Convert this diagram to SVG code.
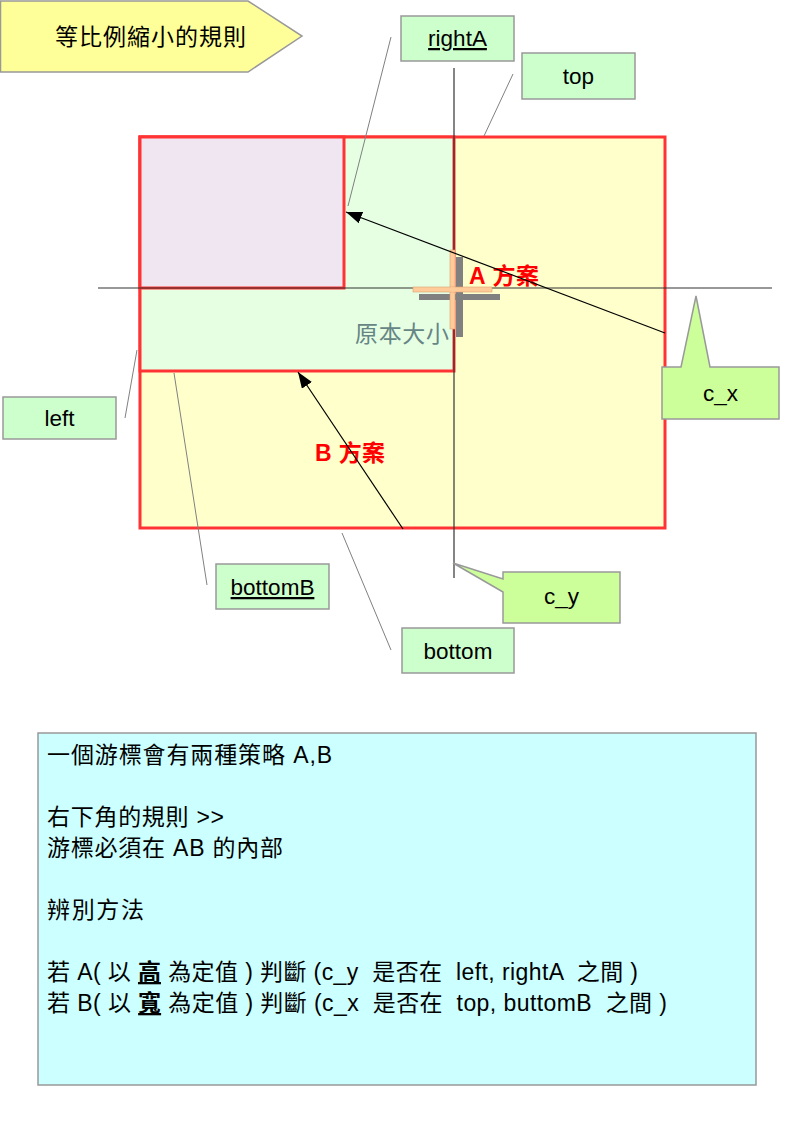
<svg xmlns="http://www.w3.org/2000/svg" width="794" height="1123" viewBox="0 0 794 1123">
<style>
text{font-family:"Liberation Sans","Noto Sans CJK TC","Noto Sans CJK SC",sans-serif;}
.lbl{fill:#ccffcc;stroke:#999999;stroke-width:1.5;}
.call{fill:#ccff99;stroke:#999999;stroke-width:1.5;}
.lt{font-size:22.5px;fill:#000;text-anchor:middle;}
.red{fill:#ff0000;font-size:23px;font-weight:bold;}
.body{font-size:23px;fill:#000;}
.pre{white-space:pre;}
.leader{stroke:#808080;stroke-width:1;fill:none;}
.arrow{stroke:#000;stroke-width:1.2;fill:none;marker-end:url(#ah);}
.frame{stroke:#ff3333;stroke-width:3;}
</style>
<defs>
<marker id="ah" markerUnits="userSpaceOnUse" markerWidth="16" markerHeight="12" refX="16" refY="6" orient="auto">
<path d="M0,0 L16,6 L0,12 Z" fill="#000"/>
</marker>
</defs>
<rect width="794" height="1123" fill="#ffffff"/>

<g id="title">
<polygon points="0.5,1 248,1 302,36 248,72 0.5,72" fill="#ffff99" stroke="#999999" stroke-width="1.5"/>
<text x="55" y="45" font-size="23" textLength="191" lengthAdjust="spacing">等比例縮小的規則</text>
</g>

<g id="rect-original">
<rect class="frame" x="140" y="137" width="525" height="391" fill="#ffffcc"/>
</g>
<g id="rect-B">
<rect class="frame" x="140" y="137" width="314" height="234" fill="#e6ffe3"/>
</g>
<g id="rect-A">
<rect class="frame" x="140" y="137" width="204" height="151" fill="#f0e6f2"/>
</g>

<g id="axes">
<line x1="454" y1="68" x2="454" y2="578" stroke="#333333" stroke-width="1.2"/>
<line x1="98" y1="288" x2="772" y2="288" stroke="#333333" stroke-width="1.2"/>
</g>

<g id="cursor">
<rect x="456" y="257" width="7" height="80" fill="#808080"/>
<rect x="419" y="294" width="81" height="6" fill="#808080"/>
<rect x="450" y="250" width="5" height="79" fill="#ffcc99" stroke="#d9a070" stroke-width="0.6"/>
<rect x="413" y="287" width="79" height="5" fill="#ffcc99" stroke="#d9a070" stroke-width="0.6"/>
<rect x="450.3" y="287.3" width="4.4" height="4.4" fill="#ffcc99"/>
</g>

<g id="label-original">
<text x="355" y="342" font-size="23" fill="#668585" textLength="94" lengthAdjust="spacing">原本大小</text>
</g>
<g id="label-planA">
<text class="red" x="469" y="284" textLength="70" lengthAdjust="spacing">A 方案</text>
</g>
<g id="label-planB">
<text class="red" x="315" y="461" textLength="70" lengthAdjust="spacing">B 方案</text>
</g>

<g id="node-rightA">
<rect class="lbl" x="401" y="16" width="113" height="45"/>
<text class="lt" x="457.5" y="46" text-decoration="underline">rightA</text>
</g>
<g id="node-top">
<rect class="lbl" x="522" y="53" width="113" height="46"/>
<text class="lt" x="578.5" y="84">top</text>
</g>
<g id="node-left">
<rect class="lbl" x="3" y="397" width="113" height="42"/>
<text class="lt" x="59.5" y="426">left</text>
</g>
<g id="node-bottomB">
<rect class="lbl" x="216" y="564" width="113" height="45"/>
<text class="lt" x="272.5" y="595" text-decoration="underline">bottomB</text>
</g>
<g id="node-bottom">
<rect class="lbl" x="402" y="628" width="112" height="45"/>
<text class="lt" x="458" y="659">bottom</text>
</g>

<g id="node-cx">
<path class="call" d="M662,367 L681,367 L696,296 L710,367 L779,367 L779,419 L662,419 Z"/>
<text class="lt" x="720.5" y="401">c_x</text>
</g>
<g id="node-cy">
<path class="call" d="M503,572 L620,572 L620,623 L503,623 L503,592 L453,563 L503,579 Z"/>
<text class="lt" x="561.5" y="604">c_y</text>
</g>

<g id="note">
<rect x="38" y="733" width="718" height="352" fill="#ccffff" stroke="#999999" stroke-width="1.5"/>
<text class="body" x="47" y="763" textLength="285" lengthAdjust="spacing">一個游標會有兩種策略 A,B</text>
<text class="body" x="47" y="825" textLength="177" lengthAdjust="spacing">右下角的規則 &gt;&gt;</text>
<text class="body" x="47" y="856" textLength="236" lengthAdjust="spacing">游標必須在 AB 的內部</text>
<text class="body" x="47" y="918" textLength="97" lengthAdjust="spacing">辨別方法</text>
<text class="body pre" x="47" y="980" textLength="591" lengthAdjust="spacing">若 A( 以 <tspan font-weight="bold" text-decoration="underline">高</tspan> 為定值 ) 判斷 (c_y  是否在  left, rightA  之間 )</text>
<text class="body pre" x="47" y="1011" textLength="620" lengthAdjust="spacing">若 B( 以 <tspan font-weight="bold" text-decoration="underline">寬</tspan> 為定值 ) 判斷 (c_x  是否在  top, buttomB  之間 )</text>
</g>

<g id="connectors">
<line class="arrow" x1="665" y1="333" x2="346" y2="212"/>
<line class="arrow" x1="403" y1="529" x2="298" y2="372"/>
<line class="leader" x1="391" y1="37" x2="348" y2="206"/>
<line class="leader" x1="513" y1="74" x2="484" y2="136"/>
<line class="leader" x1="137" y1="350" x2="125" y2="418"/>
<line class="leader" x1="174" y1="373" x2="207" y2="585"/>
<line class="leader" x1="342" y1="533" x2="391" y2="650"/>
</g>
</svg>
